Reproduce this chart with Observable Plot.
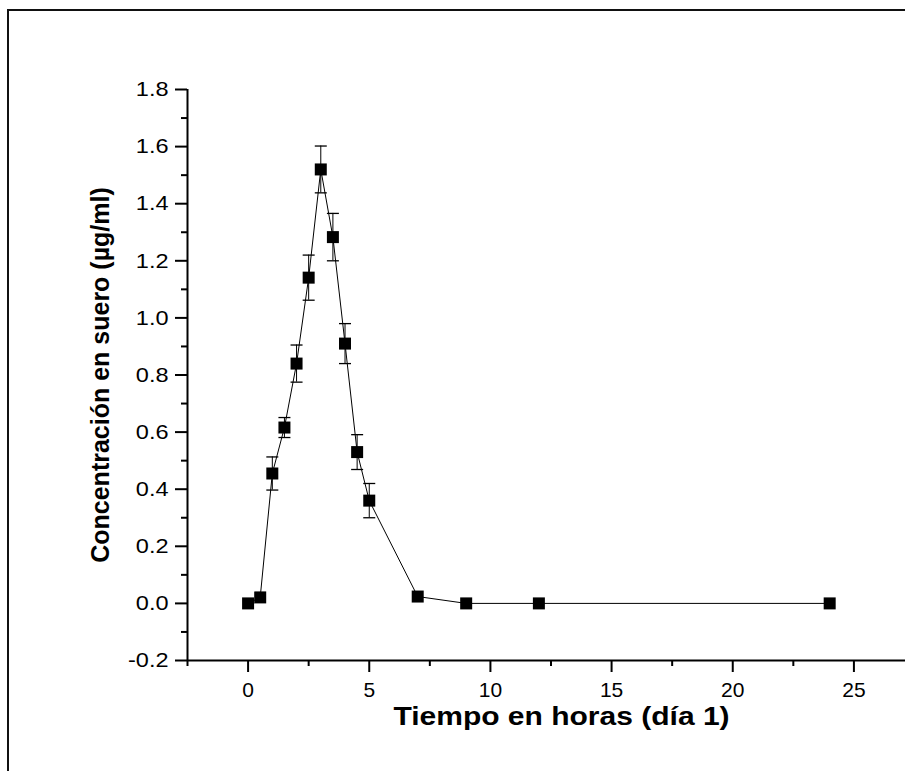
<!DOCTYPE html>
<html>
<head>
<meta charset="utf-8">
<script src="https://cdn.jsdelivr.net/npm/d3@7"></script>
<script src="https://cdn.jsdelivr.net/npm/@observablehq/plot@0.6"></script>
<style>
  html, body { margin: 0; padding: 0; background: #fff; overflow: hidden; }
  #wrap { position: relative; width: 905px; height: 771px; overflow: hidden; }
  #frame { position: absolute; left: 7px; top: 9px; width: 1200px; height: 1200px;
           border-left: 2px solid #111; border-top: 2px solid #111; pointer-events: none; }
</style>
</head>
<body>
<div id="wrap"><div id="frame"></div></div>
<script>
// Serum concentration (µg/ml) vs time (hours, day 1)
const hours = [0, 0.5, 1, 1.5, 2, 2.5, 3, 3.5, 4, 4.5, 5, 7, 9, 12, 24];
const conc  = [0, 0.021, 0.455, 0.616, 0.84, 1.141, 1.52, 1.283, 0.91, 0.53, 0.36, 0.024, 0, 0, 0];
const err   = [0, 0, 0.058, 0.035, 0.065, 0.079, 0.082, 0.083, 0.07, 0.061, 0.06, 0, 0, 0, 0];

const xMajor = [0, 5, 10, 15, 20, 25];
const xMinor = [-2.5, 2.5, 7.5, 12.5, 17.5, 22.5, 27.5];
const yMajor = [-0.2, 0, 0.2, 0.4, 0.6, 0.8, 1.0, 1.2, 1.4, 1.6, 1.8];
const yMinor = [-0.1, 0.1, 0.3, 0.5, 0.7, 0.9, 1.1, 1.3, 1.5, 1.7];

const xTitle = "Tiempo en horas (día 1)";
const yTitle = "Concentración en suero (µg/ml)";

const data = hours.map((h, i) => ({x: h, y: conc[i], e: err[i]}));
const bars = data.filter(d => d.e > 0);

const capSymbol = {draw(ctx) { ctx.moveTo(-6, 0); ctx.lineTo(6, 0); }};
const squareSymbol = {draw(ctx) { ctx.rect(-6, -6, 12, 12); }};

const font = "'Liberation Sans', Arial, sans-serif";

const chart = Plot.plot({
  width: 905,
  height: 771,
  marginLeft: 187,
  marginTop: 89,
  marginBottom: 111,
  marginRight: 0,
  style: {background: "transparent", fontFamily: font, overflow: "hidden"},
  x: {domain: [-2.5, 27.5], range: [187, 914]},
  y: {domain: [-0.2, 1.8], range: [660, 89]},
  marks: [
    // error bars
    Plot.ruleX(bars, {x: "x", y1: d => d.y - d.e, y2: d => d.y + d.e, stroke: "#000", strokeWidth: 1}),
    Plot.dot(bars, {x: "x", y: d => d.y + d.e, symbol: capSymbol, stroke: "#000", fill: "none", strokeWidth: 1.3}),
    Plot.dot(bars, {x: "x", y: d => d.y - d.e, symbol: capSymbol, stroke: "#000", fill: "none", strokeWidth: 1.3}),
    // connecting line
    Plot.line(data, {x: "x", y: "y", stroke: "#000", strokeWidth: 1}),
    // markers
    Plot.dot(data, {x: "x", y: "y", symbol: squareSymbol, fill: "#000", stroke: "none"}),
    // axes lines
    Plot.ruleX([-2.5], {y1: -0.2, y2: 1.8, stroke: "#000", strokeWidth: 2}),
    Plot.ruleY([-0.2], {x1: -2.5, x2: 27.5, stroke: "#000", strokeWidth: 2}),
    // y axis
    Plot.axisY(yMajor, {tickSize: 12, tickPadding: 7, strokeWidth: 2, fontSize: 21, fill: "#000",
      tickFormat: d => d.toFixed(1), label: null, className: "ylab"}),
    Plot.axisY(yMinor, {tickSize: 6, strokeWidth: 2, tickFormat: () => "", label: null}),
    // x axis
    Plot.axisX(xMajor, {tickSize: 12, tickPadding: 10, strokeWidth: 2, fontSize: 21, fill: "#000",
      tickFormat: d => String(d), label: null, className: "xlab"}),
    Plot.axisX(xMinor, {tickSize: 6, strokeWidth: 2, tickFormat: () => "", label: null}),
    // titles
    Plot.text([yTitle], {frameAnchor: "left", rotate: -90, dx: -87, textAnchor: "middle", lineAnchor: "middle",
      fontSize: 25, fontWeight: "bold", fill: "#000"}),
    Plot.text([xTitle], {frameAnchor: "bottom", dx: 15, dy: 64, textAnchor: "middle", lineAnchor: "bottom",
      fontSize: 25, fontWeight: "bold", fill: "#000", className: "xtitle"})
  ]
});
document.getElementById("wrap").prepend(chart);

// the reference's horizontal texts are slightly stretched sideways
function stretch(sel, k) {
  chart.querySelectorAll(sel).forEach(t => {
    const w = t.getComputedTextLength();
    t.setAttribute("textLength", (w * k).toFixed(1));
    t.setAttribute("lengthAdjust", "spacingAndGlyphs");
  });
}
stretch(".ylab text", 1.12);
stretch(".xtitle text", 1.2);
</script>
</body>
</html>
